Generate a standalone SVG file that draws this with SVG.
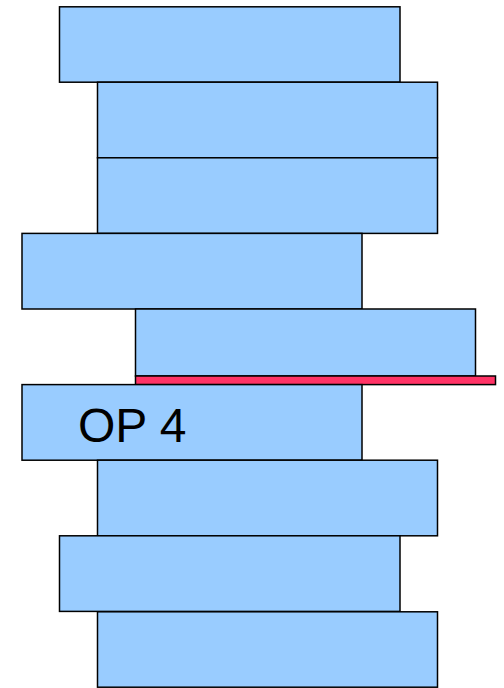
<svg xmlns="http://www.w3.org/2000/svg" width="504" height="688" viewBox="0 0 504 688">
<style>
.b{fill:#99ccff;stroke:#000;stroke-width:1.5}
.r{fill:#ff3366;stroke:#000;stroke-width:1.5}
.t{font-family:"Liberation Sans",Arial,sans-serif;font-size:48px;fill:#000}
</style>
<rect width="504" height="688" fill="#fff"/>
<g id="n1"><rect class="b" x="59.5" y="6.8" width="340.5" height="75.4"/></g>
<g id="n2"><rect class="b" x="97.5" y="82.2" width="340" height="75.6"/></g>
<g id="n3"><rect class="b" x="97.5" y="157.8" width="340" height="75.6"/></g>
<g id="n4"><rect class="b" x="22" y="233.4" width="340" height="75.6"/></g>
<g id="n5"><rect class="b" x="135.5" y="309" width="340" height="67"/></g>
<g id="n6"><rect class="r" x="135.5" y="376" width="360" height="8.6"/></g>
<g id="n7"><rect class="b" x="22" y="384.6" width="340" height="75.6"/><text class="t" x="78" y="441.5">OP 4</text></g>
<g id="n8"><rect class="b" x="97.5" y="460.2" width="340" height="75.6"/></g>
<g id="n9"><rect class="b" x="59.5" y="535.8" width="340.5" height="75.6"/></g>
<g id="n10"><rect class="b" x="97.5" y="611.8" width="340" height="75.4"/></g>
<g id="connectors"></g>
</svg>
